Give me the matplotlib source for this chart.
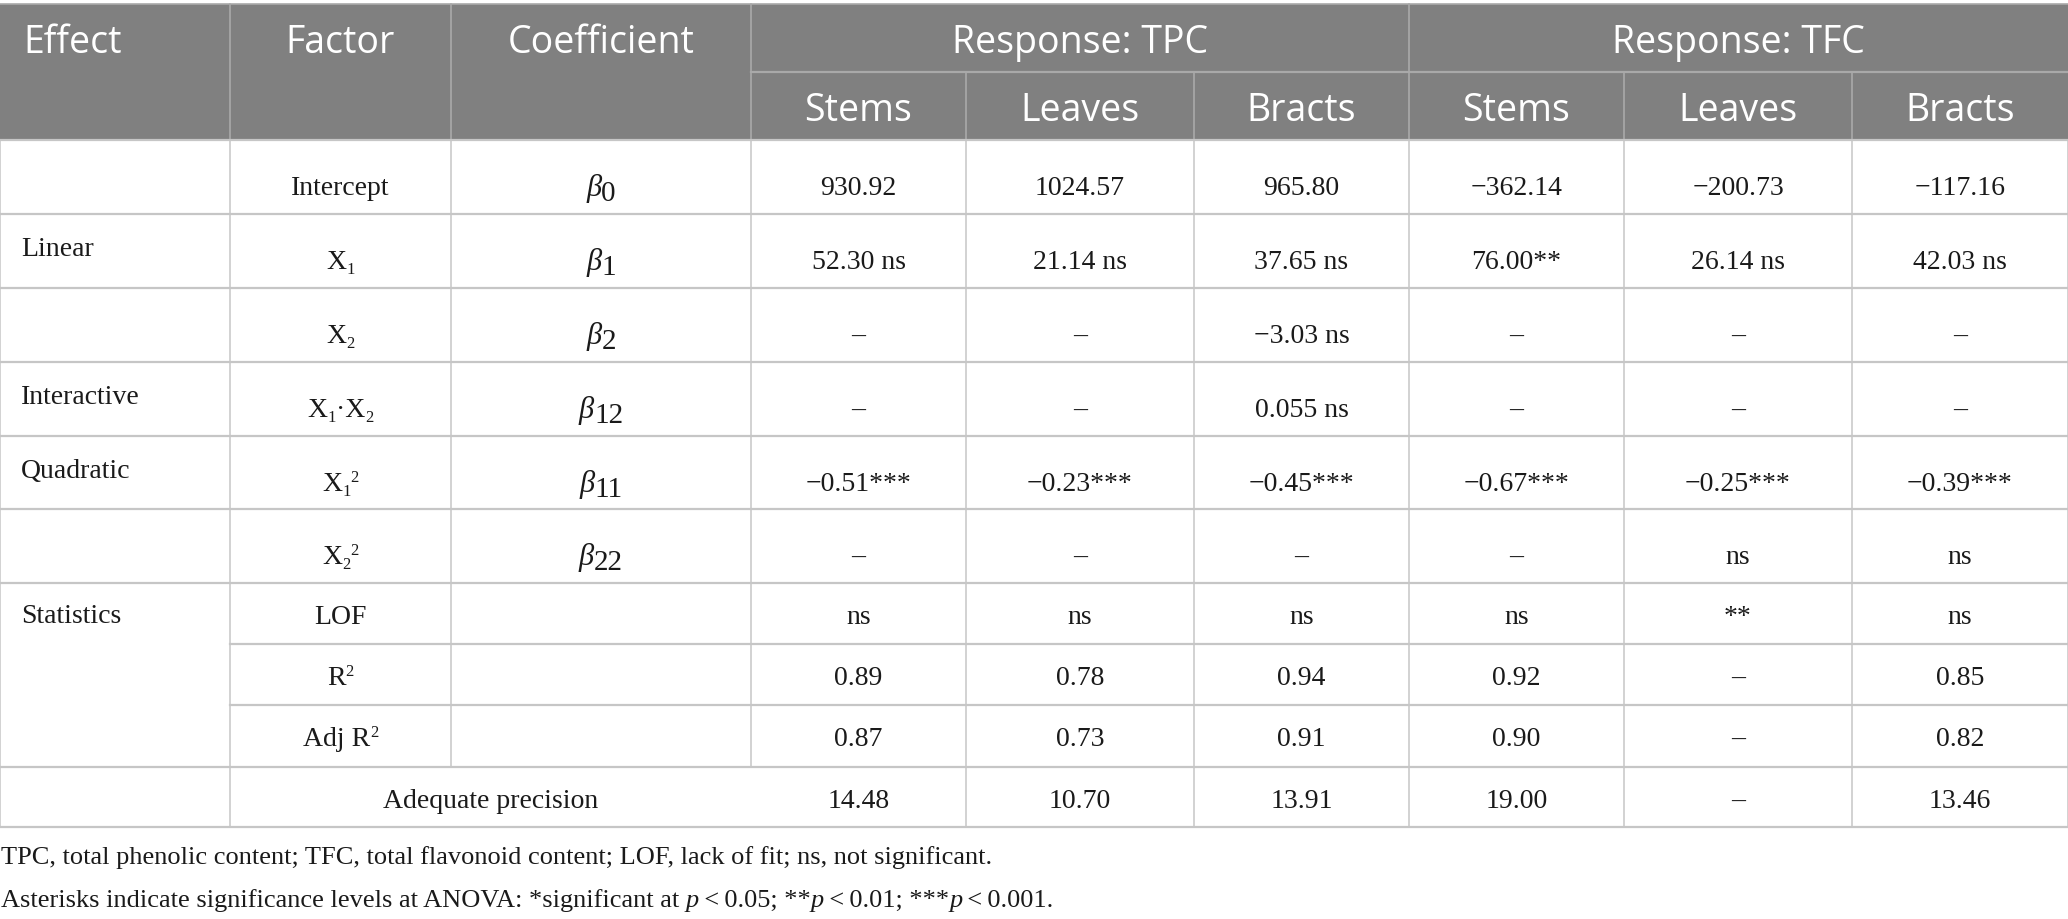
import re
import matplotlib
matplotlib.use("Agg")
import matplotlib.pyplot as plt
from matplotlib.patches import Rectangle

# ---- table content ----
effects = ["", "Linear", "", "Interactive", "Quadratic", "", "Statistics", "", "", ""]
factors = ["Intercept", "X_1", "X_2", "X_1·X_2", "X_1^2", "X_2^2", "LOF", "R^2", "Adj R^2", "Adequate precision"]
coefs = ["0", "1", "2", "12", "11", "22", "", "", "", ""]

tpc_stems = ["930.92", "52.30 ns", "–", "–", "−0.51***", "–", "ns", "0.89", "0.87", "14.48"]
tpc_leaves = ["1024.57", "21.14 ns", "–", "–", "−0.23***", "–", "ns", "0.78", "0.73", "10.70"]
tpc_bracts = ["965.80", "37.65 ns", "−3.03 ns", "0.055 ns", "−0.45***", "–", "ns", "0.94", "0.91", "13.91"]
tfc_stems = ["−362.14", "76.00**", "–", "–", "−0.67***", "–", "ns", "0.92", "0.90", "19.00"]
tfc_leaves = ["−200.73", "26.14 ns", "–", "–", "−0.25***", "ns", "**", "–", "–", "–"]
tfc_bracts = ["−117.16", "42.03 ns", "–", "–", "−0.39***", "ns", "ns", "0.85", "0.82", "13.46"]
value_cols = [tpc_stems, tpc_leaves, tpc_bracts, tfc_stems, tfc_leaves, tfc_bracts]

groups = ["Response: TPC", "Response: TFC"]
parts = ["Stems", "Leaves", "Bracts"]
top_heads = ["Effect", "Factor", "Coefficient"]

notes = ["TPC, total phenolic content; TFC, total flavonoid content; LOF, lack of fit; ns, not significant.",
         "Asterisks indicate significance levels at ANOVA: *significant at |p|\u2009<\u20090.05; **|p|\u2009<\u20090.01; ***|p|\u2009<\u20090.001."]

# ---- layout (pixels) ----
W, H = 2068, 920
xs = [0, 230, 451, 751, 966, 1194, 1409, 1624, 1852, 2068]
head_top, head_mid, head_bot = 5, 73, 141
ys = [141, 215, 289, 363, 437, 510, 584, 645, 706, 768, 828]

SERIF = "Liberation Serif"
SANS = "Open Sans"
HEAD_BG = "#808080"
HEAD_LINE = "#a9a9a9"
LINE = "#c6c6c6"
TXT = "#1a1a1a"
BODY = 20
HEAD = 27

fig = plt.figure(figsize=(W / 100, H / 100), dpi=100)
ax = fig.add_axes([0, 0, 1, 1])
ax.set_xlim(0, W)
ax.set_ylim(H, 0)
ax.axis("off")
renderer = fig.canvas.get_renderer()


def rich(cx, by, pieces, align="center"):
    objs = []
    for s, size, dy, style in pieces:
        t = ax.text(0, by + dy, s, fontsize=size, fontstyle=style, family=SERIF,
                    color=TXT, ha="left", va="baseline")
        objs.append(t)
    widths = [t.get_window_extent(renderer).width for t in objs]
    x = cx - sum(widths) / 2 if align == "center" else cx
    for t, w in zip(objs, widths):
        t.set_x(x)
        x += w


def label_pieces(s):
    out = []
    for tok in re.findall(r"_\d+|\^\d+|[^_^]+", s):
        if tok[0] == "_":
            out.append((tok[1:], BODY * 0.6, 5, "normal"))
        elif tok[0] == "^":
            out.append((tok[1:], BODY * 0.6, -9, "normal"))
        else:
            out.append((tok, BODY, 0, "normal"))
    return out


def note_pieces(s):
    out = []
    for i, tok in enumerate(s.split("|")):
        out.append((tok, 19, 0, "italic" if i % 2 else "normal"))
    return out


# header background
ax.add_patch(Rectangle((0, head_top), W, head_bot - head_top, color=HEAD_BG, lw=0))
ax.plot([0, W], [head_top, head_top], color=HEAD_LINE, lw=1.2)
for x in xs[1:4] + [xs[6]]:
    ax.plot([x, x], [head_top, head_bot], color=HEAD_LINE, lw=1.2)
for x in [xs[4], xs[5], xs[7], xs[8]]:
    ax.plot([x, x], [head_mid, head_bot], color=HEAD_LINE, lw=1.2)
ax.plot([xs[3], W], [head_mid, head_mid], color=HEAD_LINE, lw=1.6)

hy1 = (head_top + head_mid) / 2 + 4
hy2 = (head_mid + head_bot) / 2 + 4
ax.text(23, hy1, top_heads[0], family=SANS, fontsize=HEAD, color="white", ha="left", va="center")
for i in (1, 2):
    ax.text((xs[i] + xs[i + 1]) / 2, hy1, top_heads[i], family=SANS, fontsize=HEAD,
            color="white", ha="center", va="center")
for g, name in enumerate(groups):
    ax.text((xs[3 + 3 * g] + xs[6 + 3 * g]) / 2, hy1, name, family=SANS, fontsize=HEAD,
            color="white", ha="center", va="center")
    for k, p in enumerate(parts):
        c = 3 + 3 * g + k
        ax.text((xs[c] + xs[c + 1]) / 2, hy2, p, family=SANS, fontsize=HEAD,
                color="white", ha="center", va="center")

# body grid
for r, y in enumerate(ys):
    x0 = xs[1] if r in (7, 8) else 0
    ax.plot([x0, W], [y, y], color=LINE, lw=1.6)
for i, x in enumerate(xs):
    if i in (2, 3):
        ax.plot([x, x], [ys[0], ys[-2]], color=LINE, lw=1.1)
    else:
        ax.plot([x, x], [ys[0], ys[-1]], color=LINE, lw=1.1)

# body text
for r in range(len(factors)):
    top = ys[r]
    tall = r < 6
    base = top + (54 if tall else 40)
    ebase = top + (41 if tall else 39)
    if effects[r]:
        ax.text(21, ebase, effects[r], family=SERIF, fontsize=BODY, color=TXT,
                ha="left", va="baseline")
    if r == len(factors) - 1:
        rich((xs[1] + xs[3]) / 2, base, label_pieces(factors[r]))
    else:
        rich((xs[1] + xs[2]) / 2, base, label_pieces(factors[r]))
    if coefs[r]:
        rich((xs[2] + xs[3]) / 2, base + 1,
             [("β", BODY + 2, 0, "italic"), (coefs[r], BODY + 1, 5, "normal")])
    for c, col in enumerate(value_cols):
        rich((xs[3 + c] + xs[4 + c]) / 2, base, [(col[r], BODY, 0, "normal")])

# footnotes
rich(1, 864, note_pieces(notes[0]), align="left")
rich(1, 907, note_pieces(notes[1]), align="left")

fig.savefig("out.png", dpi=100, facecolor="white")
